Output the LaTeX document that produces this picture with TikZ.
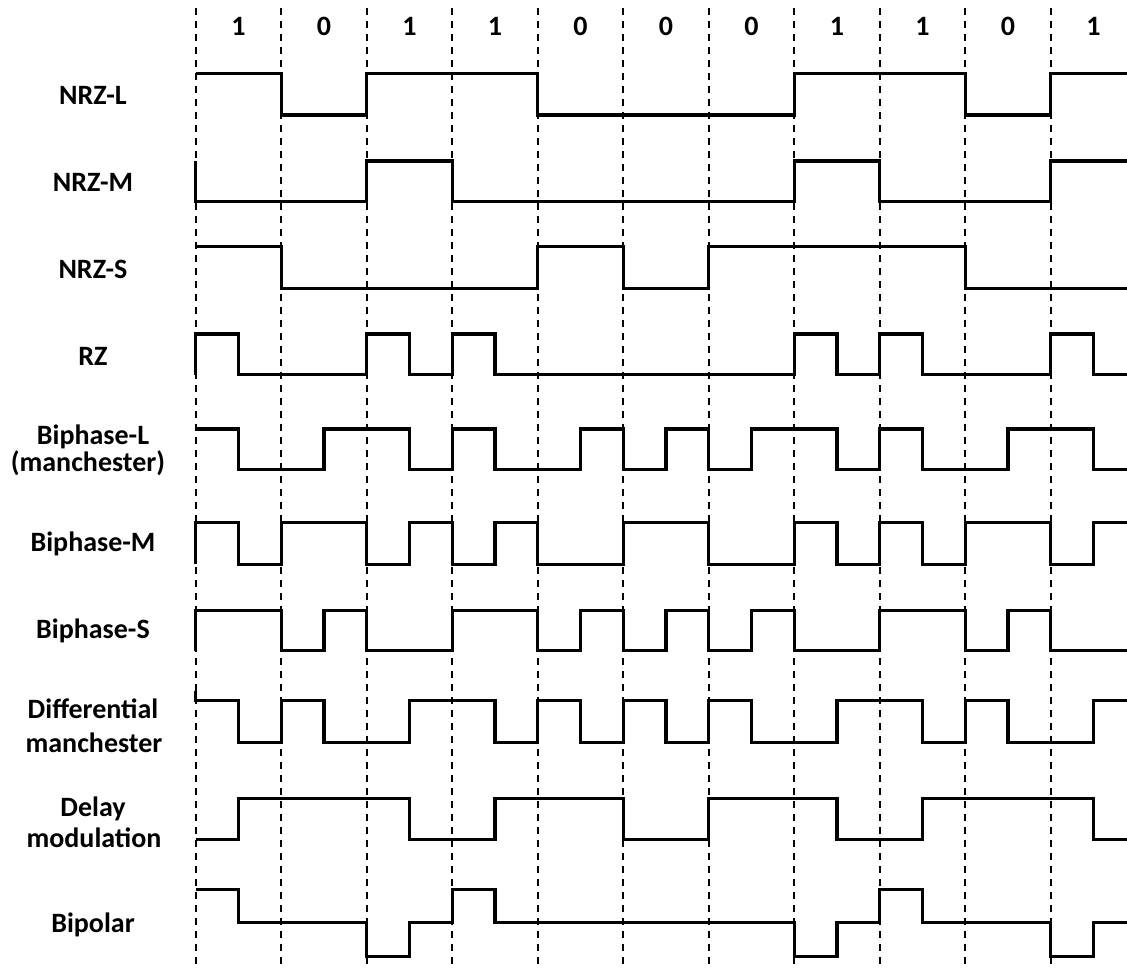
\documentclass[tikz,border=0pt]{standalone}
\usepackage{fontspec}
\setmainfont{Carlito}
\tikzset{
  sig/.style={line width=2.5pt, line join=miter},
  gridline/.style={line width=1.5pt, dash pattern=on 5.25pt off 4.5pt},
  lbl/.style={font=\fontsize{21}{25}\selectfont\bfseries, anchor=base, inner sep=0pt},
}
% #1 y of level 0, #2 amplitude, #3 initial level, #4 half-bit levels (+ final repeat)
\newcommand\wavedraw[4]{%
  \draw[sig] (195.7,{#1-#2*(#3)})
    \foreach \l [count=\n, remember=\l as \lp (initially #3)] in {#4}
      { -- ({min(195.7+42.75*(\n-1),1127)},{#1-#2*(\lp)})
        -- ({min(195.7+42.75*(\n-1),1127)},{#1-#2*(\l)}) };
}
\begin{document}
\begin{tikzpicture}[x=0.75pt,y=-0.75pt]
\useasboundingbox (0,0) rectangle (1127,971);
% bit boundaries
\foreach \k in {0,...,10}
  \draw[gridline] ({195.7+85.5*\k},8) -- ({195.7+85.5*\k},966);
% bit values
\foreach \b [count=\i from 0] in {1,0,1,1,0,0,0,1,1,0,1}
  \node[lbl] (bit\i) at ({238.45+85.5*\i},35.7) {\b};
% row labels
\node[lbl] (nrzl) at (93,104) {NRZ-L};
\node[lbl] (nrzm) at (93,191.7) {NRZ-M};
\node[lbl] (nrzs) at (93,278) {NRZ-S};
\node[lbl] (rz) at (93,365) {RZ};
\node[lbl] (bphla) at (93,444) {Biphase-L};
\node[lbl] (bphlb) at (88,471) {(manchester)};
\node[lbl] (bphm) at (93,551.7) {Biphase-M};
\node[lbl] (bphs) at (93,638) {Biphase-S};
\node[lbl] (diffa) at (93,718) {Differential};
\node[lbl] (diffb) at (94,752) {manchester};
\node[lbl] (dela) at (93,816) {Delay};
\node[lbl] (delb) at (94,847) {modulation};
\node[lbl] (bip) at (93,932) {Bipolar};
% waveforms
\wavedraw{115}{41.7}{1}{1,1,0,0,1,1,1,1,0,0,0,0,0,0,1,1,1,1,0,0,1,1,1}
\wavedraw{201.7}{40.7}{1}{0,0,0,0,1,1,0,0,0,0,0,0,0,0,1,1,0,0,0,0,1,1,1}
\wavedraw{288.3}{41.6}{1}{1,1,0,0,0,0,0,0,1,1,0,0,1,1,1,1,1,1,0,0,0,0,0}
\wavedraw{374.5}{40.5}{0}{1,0,0,0,1,0,1,0,0,0,0,0,0,0,1,0,1,0,0,0,1,0,0}
\wavedraw{469.3}{40.3}{1}{1,0,0,1,1,0,1,0,0,1,0,1,0,1,1,0,1,0,0,1,1,0,0}
\wavedraw{564.3}{42}{0}{1,0,1,1,0,1,0,1,0,0,1,1,0,0,1,0,1,0,1,1,0,1,1}
\wavedraw{650.7}{40}{0}{1,1,0,1,0,0,1,1,0,1,0,1,0,1,0,0,1,1,0,1,0,0,0}
\wavedraw{742.7}{42}{1.24}{1,0,1,0,0,1,1,0,1,0,1,0,1,0,0,1,1,0,1,0,0,1,1}
\wavedraw{839.3}{41}{0}{0,1,1,1,1,0,0,1,1,1,0,0,1,1,1,0,0,1,1,1,1,0,0}
\wavedraw{922.7}{33.5}{1}{1,0,0,0,-1,0,1,0,0,0,0,0,0,0,-1,0,1,0,0,0,-1,0,0}
\end{tikzpicture}
\end{document}
